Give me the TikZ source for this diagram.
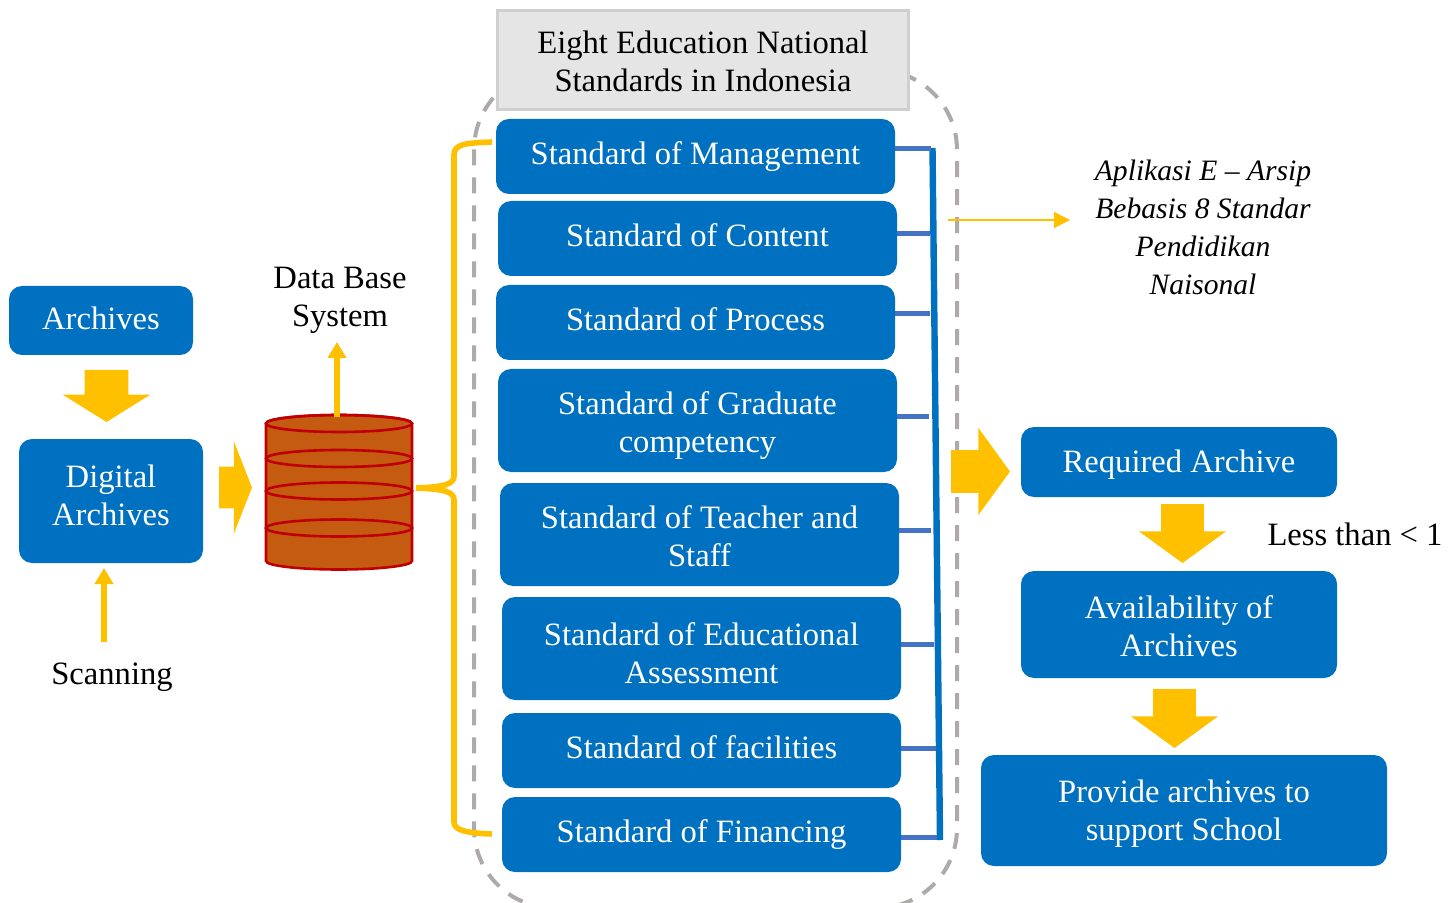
\documentclass[tikz,border=0pt]{standalone}
\usepackage{fontspec}
\setmainfont{Liberation Serif}
\usepackage{xcolor}
\usepackage{tikz}
\usetikzlibrary{arrows.meta,positioning,shapes.arrows}
\definecolor{boxblue}{HTML}{0070C0}
\definecolor{stubblue}{HTML}{4472C4}
\definecolor{archyellow}{HTML}{FFC000}
\definecolor{dashgray}{HTML}{AEAAAA}
\definecolor{drumfill}{HTML}{C55A11}
\definecolor{drumline}{HTML}{C00000}

\begin{document}
\begin{tikzpicture}[x=.5pt,y=-.5pt,>={Triangle[length=8pt,width=9pt]},
  every node/.style={font=\fontsize{16.3}{19}\selectfont,align=center,inner sep=0pt,outer sep=0pt},
  drop/.style={text height=#1,text depth=0pt},
  main node/.style={fill=boxblue,text=white,rounded corners=6.5pt,minimum width=199.5pt,minimum height=37.5pt,drop=8pt},
  tall node/.style={main node,minimum height=51.5pt,drop=32pt},
  side node/.style={fill=boxblue,text=white,rounded corners=6.5pt},
  block arrow/.style={single arrow,fill=archyellow,anchor=tail,single arrow head indent=0pt,inner ysep=10.5pt},
  stub/.style={draw=stubblue,line width=2.5pt},
  thin arrow/.style={->,draw=archyellow,line width=2.8pt},
  drum/.style={draw=drumline,line width=1.3pt}]
    \useasboundingbox (0,0) rectangle (1455,903);
    % dashed frame behind the standards
    \node[draw=dashgray,line width=2pt,dash pattern=on 8pt off 6pt,rounded corners=40pt,
      minimum width=241.5pt,minimum height=419pt](frame) at (715.5,489){};

    \node[draw=black!19,fill=black!10,line width=1.5pt,minimum width=205.5pt,minimum height=49.5pt,drop=31pt]
      (title) at (703,60.5){Eight Education National\\Standards in Indonesia};
    \node[main node,below=4.5pt of title,xshift=-3.75pt](manage){Standard of Management};
    \node[main node,below=3.5pt of manage,xshift=1pt](content){Standard of Content};
    \node[main node,below=4.5pt of content,xshift=-1pt](process){Standard of Process};
    \node[tall node,below=4.5pt of process,xshift=1pt](graduate){Standard of Graduate\\competency};
    \node[tall node,below=5.5pt of graduate,xshift=1pt](teacher){Standard of Teacher and\\Staff};
    \node[tall node,drop=34.5pt,below=5.5pt of teacher,xshift=1pt](assess){Standard of Educational\\Assessment};
    \node[main node,below=6.5pt of assess](facility){Standard of facilities};
    \node[main node,below=4.5pt of facility](finance){Standard of Financing};

    \node[side node,minimum width=92pt,minimum height=34.5pt,drop=9.5pt](archives) at (101,320.5){Archives};
    \node[side node,minimum width=92pt,minimum height=62pt,drop=24.5pt,below=42pt of archives,xshift=5pt](digital){Digital\\Archives};
    \node(scanning) at (112,677){Scanning};
    \node(database) at (340,300){Data Base\\System};

    \node[side node,minimum width=158pt,minimum height=35pt,drop=10pt](required) at (1179,462){Required Archive};
    \node[side node,minimum width=158pt,minimum height=53.5pt,drop=32pt,below=37pt of required](avail){Availability of\\Archives};
    \node[side node,minimum width=203pt,minimum height=55.5pt,drop=30pt,below=38.5pt of avail,xshift=2.5pt](provide){Provide archives to\\support School};
    \node(less) at (1355,534){Less than < 1};
    \node[font=\fontsize{14.8}{19}\selectfont\itshape](aplikasi) at (1203,227){Aplikasi E -- Arsip\\Bebasis 8 Standar\\Pendidikan\\Naisonal};

    % database drum
    \node[minimum width=73pt,minimum height=77pt](db) at (339,492){};
    \draw[drum,fill=drumfill] (266,423.5) -- (266,561)
      arc[start angle=180,end angle=360,x radius=36.5pt,y radius=4.25pt] -- (412,423.5)
      arc[start angle=0,end angle=180,x radius=36.5pt,y radius=4.25pt] -- cycle;
    \foreach \ringy in {423.5,458.5,491,528}
      \draw[drum] (339,\ringy) ellipse[x radius=36.5pt,y radius=4.25pt];

    % block arrows
    \node[block arrow,rotate=-90,minimum height=26pt,minimum width=43.5pt,single arrow head extend=11pt,single arrow tip angle=116,inner ysep=10.75pt](down1) at (106.5,370){};
    \node[block arrow,minimum height=16.5pt,minimum width=45.5pt,single arrow head extend=12.5pt,single arrow tip angle=137,inner ysep=10.25pt](right1) at (219,487.5){};
    \node[block arrow,minimum height=29.5pt,minimum width=42.5pt,single arrow head extend=11pt,single arrow tip angle=108](right2) at (951,471.5){};
    \node[block arrow,rotate=-90,minimum height=29.5pt,minimum width=42.5pt,single arrow head extend=11pt,single arrow tip angle=108](down2) at (1182.5,504){};
    \node[block arrow,rotate=-90,minimum height=29.5pt,minimum width=42.5pt,single arrow head extend=11pt,single arrow tip angle=108](down3) at (1174.5,689){};

    % thin arrows
    \coordinate(dbtop) at (337,417);
    \coordinate(dbtip) at (337,342);
    \coordinate(scanfoot) at (104,642);
    \coordinate(frameout) at (948,220);
    \coordinate(apliktip) at (1070,220);
    \draw[thin arrow] (dbtop) -- (dbtip);
    \draw[thin arrow] (scanfoot) -- (scanfoot |- digital.south) [shorten >=2.5pt];
    \draw[draw=archyellow,line width=.6pt,-{Triangle[length=8pt,width=8pt]}] (frameout) -- (apliktip);

    % brace over the standards
    \draw[archyellow,line width=2.8pt] (492,142) .. controls (465,143) and (454,144) .. (454,155)
      -- (454,476) .. controls (454,484) and (445,487) .. (416,488)
      .. controls (445,489) and (454,492) .. (454,500)
      -- (454,822) .. controls (454,830) and (465,833) .. (492,834);

    % blue bar and its stubs
    \coordinate(bartop) at (932.5,148);
    \coordinate(barfoot) at (940,840);
    \draw[draw=boxblue,line width=3.2pt] (bartop) -- (barfoot);
    \foreach \n/\y/\e in {manage/149/931,content/234/930,process/314/930,graduate/416/929,
      teacher/530/931,assess/644/934,facility/748/936,finance/837/937}
      \draw[stub] (\n.east |- 0,\y) -- (\e,\y);
\end{tikzpicture}
\end{document}
